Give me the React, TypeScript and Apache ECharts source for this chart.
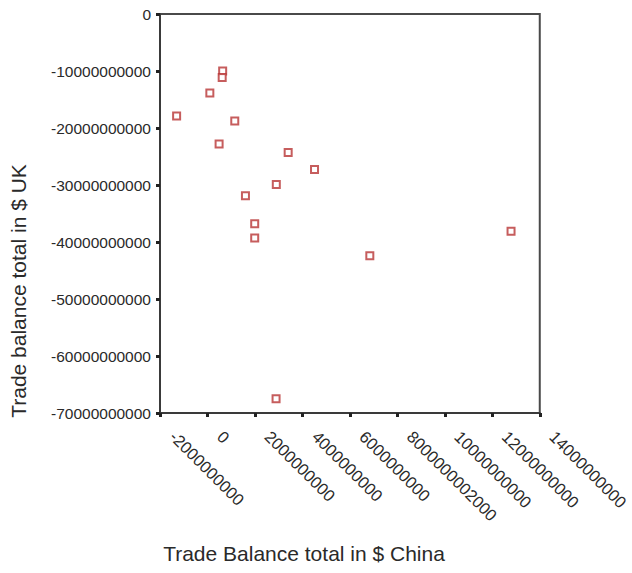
import React, { useEffect, useRef } from "react";
import * as echarts from "echarts";

// Trade balance China (x) vs UK (y), in $
const chinaBalance = [
  0.64e9, 0.62e9, 0.1e9, -1.3e9, 1.15e9, 0.49e9, 3.4e9, 4.51e9, 2.9e9, 1.6e9,
  1.99e9, 1.99e9, 6.84e9, 12.79e9, 2.89e9,
];
const ukBalance = [
  -1.0e10, -1.115e10, -1.386e10, -1.79e10, -1.876e10, -2.28e10, -2.43e10,
  -2.73e10, -2.99e10, -3.19e10, -3.68e10, -3.93e10, -4.24e10, -3.81e10,
  -6.75e10,
];
const xTickLabels = [
  "-2000000000",
  "0",
  "2000000000",
  "4000000000",
  "6000000000",
  "8000000002000",
  "10000000000",
  "12000000000",
  "14000000000",
];
const yTickLabels = [
  "0",
  "-10000000000",
  "-20000000000",
  "-30000000000",
  "-40000000000",
  "-50000000000",
  "-60000000000",
  "-70000000000",
];
const xTitle = "Trade Balance total in $ China";
const yTitle = "Trade balance total in $ UK";

const X_MIN = -2e9;
const X_MAX = 14e9;
const X_STEP = 2e9;
const Y_MIN = -7e10;
const Y_MAX = 0;
const Y_STEP = 1e10;

export default function App() {
  const ref = useRef<HTMLDivElement>(null);
  useEffect(() => {
    if (!ref.current) return;
    const chart = echarts.init(ref.current, null, { renderer: "svg" });
    const font = "Liberation Sans, Arial, sans-serif";
    const axisColor = "#3a3a3a";
    const textColor = "#2a2a2a";
    chart.setOption({
      animation: false,
      backgroundColor: "#ffffff",
      grid: {
        left: 160,
        right: 91,
        top: 14,
        bottom: 160,
        show: true,
        borderColor: "#4a4a4a",
        borderWidth: 2,
        backgroundColor: "transparent",
      },
      xAxis: {
        type: "value",
        min: X_MIN,
        max: X_MAX,
        interval: X_STEP,
        splitLine: { show: false },
        axisLine: { show: true, onZero: false, lineStyle: { color: axisColor, width: 2 } },
        axisTick: { show: true, length: 4, lineStyle: { color: "#222", width: 3 } },
        axisLabel: {
          rotate: -45,
          margin: 8,
          padding: [0, 0, 0, 18],
          color: textColor,
          fontFamily: font,
          fontSize: 16.5,
          formatter: (v: number) => xTickLabels[Math.round((v - X_MIN) / X_STEP)] ?? "",
        },
      },
      yAxis: {
        type: "value",
        min: Y_MIN,
        max: Y_MAX,
        interval: Y_STEP,
        splitLine: { show: false },
        axisLine: { show: true, onZero: false, lineStyle: { color: axisColor, width: 2 } },
        axisTick: { show: true, length: 4, lineStyle: { color: "#222", width: 3 } },
        axisLabel: {
          margin: 9,
          color: textColor,
          fontFamily: font,
          fontSize: 15.5,
          formatter: (v: number) => yTickLabels[Math.round((Y_MAX - v) / Y_STEP)] ?? "",
        },
      },
      graphic: [
        {
          type: "text",
          x: 304,
          y: 553,
          style: {
            text: xTitle,
            fill: textColor,
            font: `21px ${font}`,
            textAlign: "center",
            textVerticalAlign: "middle",
          },
        },
        {
          type: "text",
          x: 18,
          y: 291,
          rotation: Math.PI / 2,
          style: {
            text: yTitle,
            fill: textColor,
            font: `21px ${font}`,
            textAlign: "center",
            textVerticalAlign: "middle",
          },
        },
      ],
      series: [
        {
          type: "scatter",
          symbol: "rect",
          symbolSize: 7,
          itemStyle: { color: "#ffffff", borderColor: "#b83535", borderWidth: 2 },
          data: chinaBalance.map((x, i) => [x, ukBalance[i]]),
        },
      ],
    });
    return () => chart.dispose();
  }, []);
  return (
    <div
      ref={ref}
      style={{ position: "fixed", left: 0, top: 0, width: 632, height: 573 }}
    />
  );
}
